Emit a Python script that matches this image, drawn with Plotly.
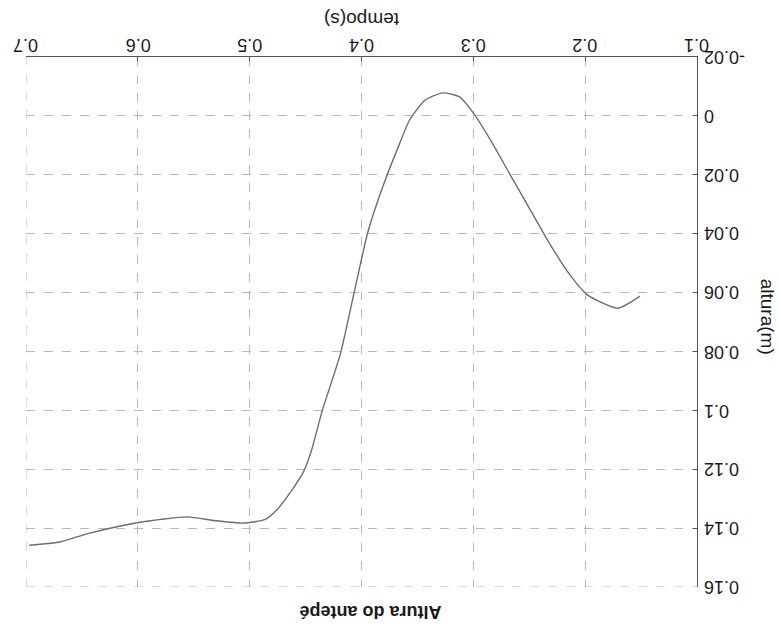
import plotly.graph_objects as go

# data read from the (180°-rotated) reference
tempo = [0.151, 0.171, 0.198, 0.2136, 0.231, 0.249, 0.267, 0.285, 0.300, 0.312,
         0.327, 0.343, 0.357, 0.366, 0.379, 0.394, 0.406, 0.419, 0.435, 0.445,
         0.452, 0.461, 0.475, 0.486, 0.506, 0.530, 0.556, 0.598, 0.643, 0.670, 0.697]
altura = [0.0612, 0.0653, 0.0608, 0.054, 0.0439, 0.032, 0.020, 0.008, -0.001, -0.0064,
          -0.0078, -0.0054, 0.0014, 0.0095, 0.022, 0.039, 0.059, 0.081, 0.100, 0.114,
          0.121, 0.1264, 0.1335, 0.137, 0.1383, 0.1375, 0.1362, 0.138, 0.1417, 0.1447, 0.1458]

x_ticks = [0.1, 0.2, 0.3, 0.4, 0.5, 0.6, 0.7]
x_labels = ["0.1", "0.2", "0.3", "0.4", "0.5", "0.6", "0.7"]
y_ticks = [-0.02, 0, 0.02, 0.04, 0.06, 0.08, 0.1, 0.12, 0.14, 0.16]
y_labels = ["-0.02", "0", "0.02", "0.04", "0.06", "0.08", "0.1", "0.12", "0.14", "0.16"]

title_text = "Altura do antepé"
x_title = "tempo(s)"
y_title = "altura(m)"

font = "Liberation Sans, Arial, sans-serif"
txt_color = "#1a1a1a"
grid_color = "#b8b8b8"

fig = go.Figure()
fig.add_trace(go.Scatter(x=tempo, y=altura, mode="lines",
                         line=dict(color="#6e6e6e", width=1.4, shape="spline", smoothing=0.6),
                         showlegend=False, hoverinfo="skip"))

axis_common = dict(showgrid=True, gridcolor=grid_color, griddash="dash", gridwidth=1,
                   showline=True, linecolor="#555555", linewidth=1, mirror=False,
                   zeroline=False, ticks="inside", ticklen=4, tickcolor="#555555",
                   showticklabels=False)

annotations = []
# tick labels drawn upside-down (whole reference is rotated 180°)
for v, lab in zip(x_ticks, x_labels):
    annotations.append(dict(text=lab, x=v, y=1, xref="x", yref="paper", yshift=12,
                            showarrow=False, textangle=180, xanchor="center", yanchor="middle",
                            font=dict(family=font, size=18, color=txt_color)))
for v, lab in zip(y_ticks, y_labels):
    annotations.append(dict(text=lab, x=1, y=v, xref="paper", yref="y", xshift=5,
                            showarrow=False, textangle=180, xanchor="left", yanchor="middle",
                            font=dict(family=font, size=18, color=txt_color)))

annotations += [
    dict(text=x_title, x=0.5, y=1, xref="paper", yref="paper", yshift=37,
         showarrow=False, textangle=180, xanchor="center", yanchor="middle",
         font=dict(family=font, size=19, color=txt_color)),
    dict(text=y_title, x=1, y=0.51, xref="paper", yref="paper", xshift=70,
         showarrow=False, textangle=90, xanchor="center", yanchor="middle",
         font=dict(family=font, size=19, color=txt_color)),
    dict(text="<b>" + title_text + "</b>", x=0.513, y=0, xref="paper", yref="paper",
         yshift=-25, showarrow=False, textangle=180, xanchor="center", yanchor="middle",
         font=dict(family=font, size=18, color=txt_color)),
]

fig.update_layout(
    width=779, height=629,
    margin=dict(l=26, r=82, t=57, b=42),
    paper_bgcolor="white", plot_bgcolor="white",
    xaxis=dict(range=[x_ticks[-1], x_ticks[0]], side="top", tickvals=x_ticks, **axis_common),
    yaxis=dict(range=[y_ticks[-1], y_ticks[0]], side="right", tickvals=y_ticks, **axis_common),
    annotations=annotations,
)
# dashed grid lines on the far (un-lined) edges
fig.add_vline(x=x_ticks[-1], line=dict(color=grid_color, dash="dash", width=1))
fig.add_hline(y=y_ticks[-1], line=dict(color=grid_color, dash="dash", width=1))

fig.write_html("out.html", config={"displayModeBar": False},
               post_script="document.body.style.margin='0';document.body.style.overflow='hidden';")
